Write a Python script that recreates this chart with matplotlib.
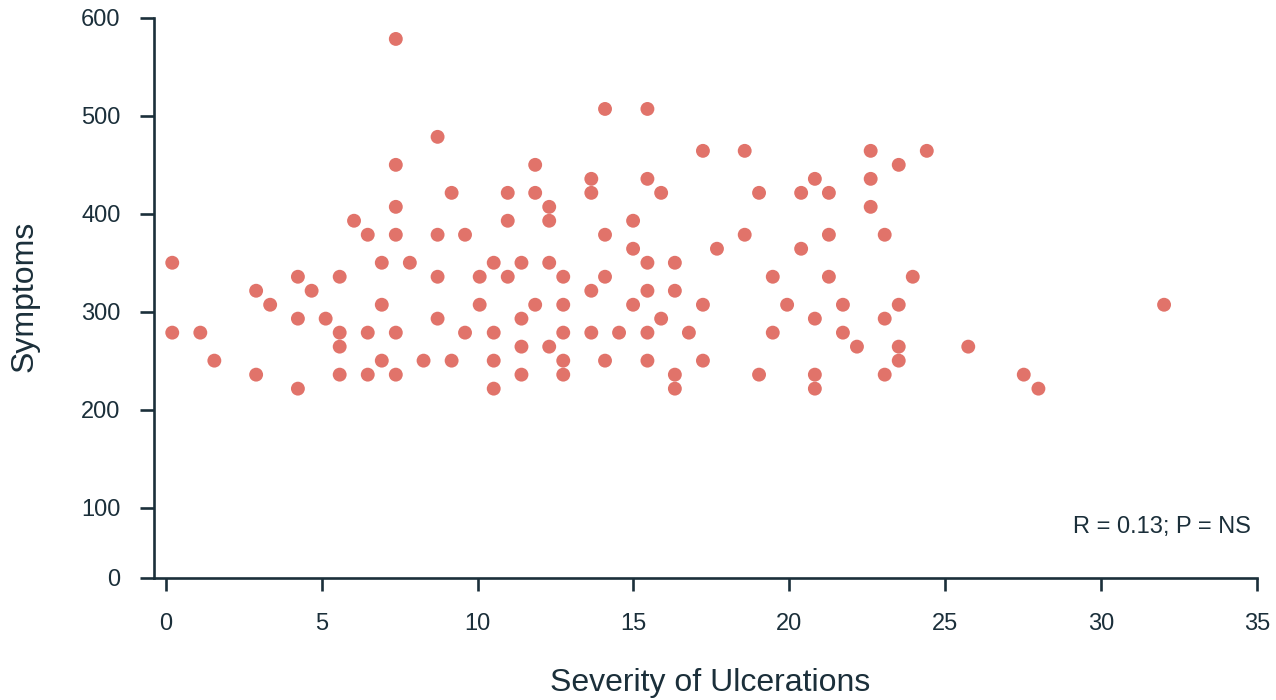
import numpy as np
import matplotlib
matplotlib.use("Agg")
import matplotlib.pyplot as plt

plt.rcParams['font.family'] = ['Liberation Sans', 'DejaVu Sans']

# severity of ulcerations (x) and symptoms score (y)
severity = [0.21, 0.21, 1.11, 1.56, 2.90, 2.90, 3.35, 4.24, 4.24, 4.24, 4.68, 5.13,
            5.58, 5.58, 5.58, 5.58, 6.04, 6.48, 6.48, 6.48, 6.93, 6.93, 6.93,
            7.38, 7.38, 7.38, 7.38, 7.38, 7.38, 7.83, 8.27, 8.72, 8.72, 8.72, 8.72,
            9.17, 9.17, 9.60, 9.60, 10.07, 10.07, 10.52, 10.52, 10.52, 10.52,
            10.97, 10.97, 10.97, 11.41, 11.41, 11.41, 11.41, 11.85, 11.85, 11.85,
            12.30, 12.30, 12.30, 12.30, 12.75, 12.75, 12.75, 12.75, 12.75,
            13.65, 13.65, 13.65, 13.65, 14.09, 14.09, 14.09, 14.09, 14.54,
            14.99, 14.99, 14.99, 15.45, 15.45, 15.45, 15.45, 15.45, 15.45,
            15.89, 15.89, 16.33, 16.33, 16.33, 16.33, 16.78, 17.23, 17.23, 17.23,
            17.68, 18.57, 18.57, 19.03, 19.03, 19.47, 19.47, 19.93, 20.38, 20.38,
            20.82, 20.82, 20.82, 20.82, 21.27, 21.27, 21.27, 21.72, 21.72, 22.17,
            22.61, 22.61, 22.61, 23.06, 23.06, 23.06, 23.51, 23.51, 23.51, 23.51,
            23.96, 24.41, 25.74, 27.52, 27.99, 32.02]
symptoms = [350.0, 278.6, 278.6, 250.0, 321.4, 235.7, 307.1, 335.7, 292.9, 221.4, 321.4, 292.9,
            335.7, 278.6, 264.3, 235.7, 392.9, 378.6, 278.6, 235.7, 350.0, 307.1, 250.0,
            578.6, 450.0, 407.1, 378.6, 278.6, 235.7, 350.0, 250.0, 478.6, 378.6, 335.7, 292.9,
            421.4, 250.0, 378.6, 278.6, 335.7, 307.1, 350.0, 278.6, 250.0, 221.4,
            421.4, 392.9, 335.7, 350.0, 292.9, 264.3, 235.7, 450.0, 421.4, 307.1,
            407.1, 392.9, 350.0, 264.3, 335.7, 307.1, 278.6, 250.0, 235.7,
            435.7, 421.4, 321.4, 278.6, 507.1, 378.6, 335.7, 250.0, 278.6,
            392.9, 364.3, 307.1, 507.1, 435.7, 350.0, 321.4, 278.6, 250.0,
            421.4, 292.9, 350.0, 321.4, 235.7, 221.4, 278.6, 464.3, 307.1, 250.0,
            364.3, 464.3, 378.6, 421.4, 235.7, 335.7, 278.6, 307.1, 421.4, 364.3,
            435.7, 292.9, 235.7, 221.4, 421.4, 378.6, 335.7, 307.1, 278.6, 264.3,
            464.3, 435.7, 407.1, 378.6, 292.9, 235.7, 450.0, 307.1, 264.3, 250.0,
            335.7, 464.3, 264.3, 235.7, 221.4, 307.1]

x_ticks = [0, 5, 10, 15, 20, 25, 30, 35]
y_ticks = [0, 100, 200, 300, 400, 500, 600]

dark = '#1b2f3a'
dot = '#e1736a'


# the y axis in the original squeezes the 0-100 band
def fwd(y):
    y = np.asarray(y, dtype=float)
    return np.where(y < 100, y * 0.72, y - 28)


def inv(v):
    v = np.asarray(v, dtype=float)
    return np.where(v < 72, v / 0.72, v + 28)


fig = plt.figure(figsize=(12.76, 7.0), dpi=100)
ax = fig.add_axes([0.1207, 0.1743, 0.8644, 0.80])

ax.scatter(severity, symptoms, s=100, color=dot, edgecolors='none', zorder=3)

ax.set_yscale('function', functions=(fwd, inv))
ax.set_xlim(-0.375, 35)
ax.set_ylim(0, 600)
ax.set_xticks(x_ticks)
ax.set_yticks(y_ticks)
ax.set_xticklabels([str(t) for t in x_ticks])
ax.set_yticklabels([str(t) for t in y_ticks])

for side in ['top', 'right']:
    ax.spines[side].set_visible(False)
for side in ['left', 'bottom']:
    ax.spines[side].set_color(dark)
    ax.spines[side].set_linewidth(1.9)

ax.tick_params(axis='x', length=9.5, width=1.9, color=dark, labelcolor=dark,
               labelsize=17, pad=16)
ax.tick_params(axis='y', length=10, width=1.9, color=dark, labelcolor=dark,
               labelsize=17, pad=14)

ax.set_xlabel('Severity of Ulcerations', fontsize=23, color=dark, va='center')
ax.xaxis.set_label_coords(0.504, -0.1875)
ax.set_ylabel('Symptoms', fontsize=23, color=dark, va='center')
ax.yaxis.set_label_coords(-0.117, 0.502)

ax.text(0.9946, 0.091, 'R = 0.13; P = NS', transform=ax.transAxes,
        ha='right', va='center', fontsize=17, color=dark)

fig.savefig('out.png', dpi=100)
